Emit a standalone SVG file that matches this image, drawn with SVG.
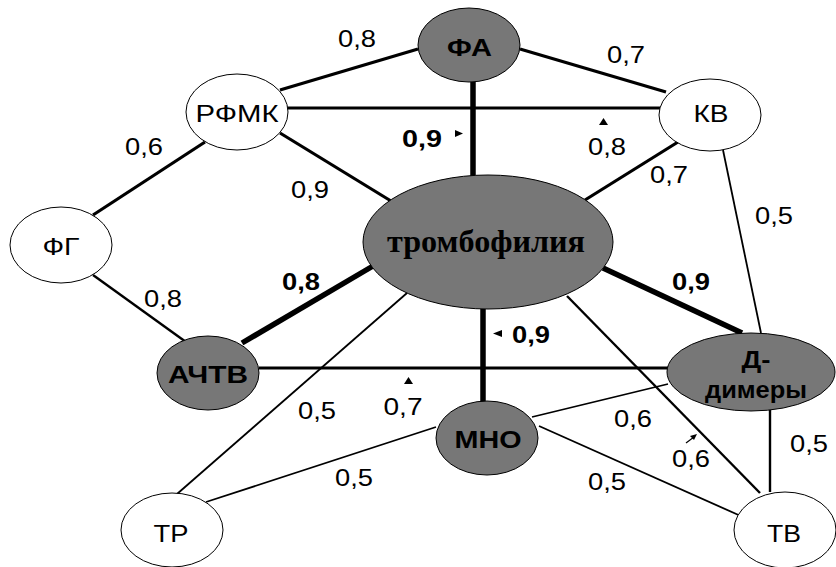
<svg xmlns="http://www.w3.org/2000/svg" width="836" height="567" viewBox="0 0 836 567">
<style>
.e{stroke:#000;fill:none;stroke-linecap:butt}
.w1{stroke-width:1.8}
.w2{stroke-width:2.4}
.w3{stroke-width:3.2}
.w5{stroke-width:5.5}
.n{stroke:#000;stroke-width:1}
.light{fill:#fff}
.dark{fill:#777}
.t{font-family:"Liberation Sans",Arial,sans-serif;font-size:24px;text-anchor:middle;fill:#000}
.b{font-weight:bold}
.s{font-family:"Liberation Serif","Times New Roman",serif;font-size:31px;font-weight:bold;text-anchor:middle;fill:#000}
.m{fill:#000}
</style>
<rect width="836" height="567" fill="#fff"/>
<g id="connectors">
<line class="e w3" x1="280" y1="90" x2="418" y2="49"/>
<line class="e w3" x1="520" y1="49" x2="666" y2="92"/>
<line class="e w3" x1="278" y1="108" x2="660" y2="108"/>
<line class="e w5" x1="473" y1="82" x2="473" y2="176"/>
<line class="e w3" x1="280" y1="133" x2="391" y2="201"/>
<line class="e w3" x1="678" y1="142" x2="585" y2="200"/>
<line class="e w3" x1="205" y1="142" x2="93" y2="215"/>
<line class="e w2" x1="93" y1="275" x2="186" y2="342"/>
<line class="e w5" x1="242" y1="343" x2="373" y2="266"/>
<line class="e w3" x1="259" y1="368" x2="668" y2="368"/>
<line class="e w1" x1="407" y1="293" x2="177" y2="494"/>
<line class="e w1" x1="436" y1="427" x2="206" y2="502"/>
<line class="e w5" x1="483" y1="309" x2="483" y2="402"/>
<line class="e w5" x1="603" y1="268" x2="742" y2="333"/>
<line class="e w2" x1="567" y1="296" x2="760" y2="493"/>
<line class="e w1" x1="532" y1="417" x2="668" y2="384"/>
<line class="e w1" x1="539" y1="426" x2="743" y2="517"/>
<line class="e w1" x1="723" y1="150" x2="761" y2="333"/>
<line class="e w2" x1="770" y1="410" x2="770" y2="492"/>
</g>
<g id="edge-labels">
<text class="t" x="357" y="47" textLength="38" lengthAdjust="spacingAndGlyphs">0,8</text>
<text class="t" x="626" y="63" textLength="38" lengthAdjust="spacingAndGlyphs">0,7</text>
<text class="t b" x="422" y="147" textLength="40" lengthAdjust="spacingAndGlyphs">0,9</text>
<text class="t" x="607" y="155" textLength="38" lengthAdjust="spacingAndGlyphs">0,8</text>
<text class="t" x="144" y="155" textLength="38" lengthAdjust="spacingAndGlyphs">0,6</text>
<text class="t" x="310" y="198" textLength="38" lengthAdjust="spacingAndGlyphs">0,9</text>
<text class="t" x="669" y="183" textLength="38" lengthAdjust="spacingAndGlyphs">0,7</text>
<text class="t" x="774" y="224" textLength="38" lengthAdjust="spacingAndGlyphs">0,5</text>
<text class="t b" x="301" y="290" textLength="38" lengthAdjust="spacingAndGlyphs">0,8</text>
<text class="t" x="163" y="307" textLength="38" lengthAdjust="spacingAndGlyphs">0,8</text>
<text class="t b" x="691" y="290" textLength="38" lengthAdjust="spacingAndGlyphs">0,9</text>
<text class="t b" x="531" y="343" textLength="38" lengthAdjust="spacingAndGlyphs">0,9</text>
<text class="t" x="317" y="419" textLength="38" lengthAdjust="spacingAndGlyphs">0,5</text>
<text class="t" x="403" y="415" textLength="39" lengthAdjust="spacingAndGlyphs">0,7</text>
<text class="t" x="633" y="427" textLength="38" lengthAdjust="spacingAndGlyphs">0,6</text>
<text class="t" x="691" y="467" textLength="38" lengthAdjust="spacingAndGlyphs">0,6</text>
<text class="t" x="809" y="452" textLength="38" lengthAdjust="spacingAndGlyphs">0,5</text>
<text class="t" x="354" y="486" textLength="38" lengthAdjust="spacingAndGlyphs">0,5</text>
<text class="t" x="607" y="490" textLength="38" lengthAdjust="spacingAndGlyphs">0,5</text>
<polygon class="m" points="455,130 463,133.5 455,137"/>
<polygon class="m" points="599,125 603.5,118 608,125"/>
<polygon class="m" points="404,384 408.5,377 413,384"/>
<polygon class="m" points="502,330 493,333.5 502,337"/>
<line x1="686" y1="443" x2="694" y2="437" stroke="#000" stroke-width="1.2"/>
<polygon class="m" points="697,434 690,436 694,440"/>
</g>
<g id="node-FA"><ellipse class="n dark" cx="469" cy="45" rx="51" ry="37"/><text class="t b" x="469.5" y="56" textLength="45" lengthAdjust="spacingAndGlyphs">ФА</text></g>
<g id="node-RFMK"><ellipse class="n light" cx="237" cy="112" rx="51" ry="38"/><text class="t" x="237" y="122" textLength="83" lengthAdjust="spacingAndGlyphs">РФМК</text></g>
<g id="node-KV"><ellipse class="n light" cx="710" cy="115" rx="51" ry="36"/><text class="t" x="711" y="122" textLength="35" lengthAdjust="spacingAndGlyphs">КВ</text></g>
<g id="node-FG"><ellipse class="n light" cx="61" cy="245" rx="51" ry="38"/><text class="t" x="61" y="255" textLength="37" lengthAdjust="spacingAndGlyphs">ФГ</text></g>
<g id="node-trombofilia"><ellipse class="n dark" cx="488" cy="242" rx="125" ry="67"/><text class="s" x="486" y="252" textLength="198" lengthAdjust="spacingAndGlyphs">тромбофилия</text></g>
<g id="node-AChTV"><ellipse class="n dark" cx="208" cy="373" rx="51" ry="37"/><text class="t b" x="208" y="383" textLength="80" lengthAdjust="spacingAndGlyphs">АЧТВ</text></g>
<g id="node-D-dimery"><ellipse class="n dark" cx="751" cy="372" rx="84" ry="39"/><text class="t b" x="756" y="368" textLength="29" lengthAdjust="spacingAndGlyphs">Д-</text><text class="t b" x="756" y="398" textLength="102" lengthAdjust="spacingAndGlyphs">димеры</text></g>
<g id="node-MNO"><ellipse class="n dark" cx="487" cy="438" rx="51" ry="37"/><text class="t b" x="488" y="448" textLength="67" lengthAdjust="spacingAndGlyphs">МНО</text></g>
<g id="node-TR"><ellipse class="n light" cx="172" cy="530" rx="51" ry="37"/><text class="t" x="171" y="542" textLength="35" lengthAdjust="spacingAndGlyphs">ТР</text></g>
<g id="node-TV"><ellipse class="n light" cx="785" cy="530" rx="51" ry="38"/><text class="t" x="784" y="542" textLength="34" lengthAdjust="spacingAndGlyphs">ТВ</text></g>
</svg>
